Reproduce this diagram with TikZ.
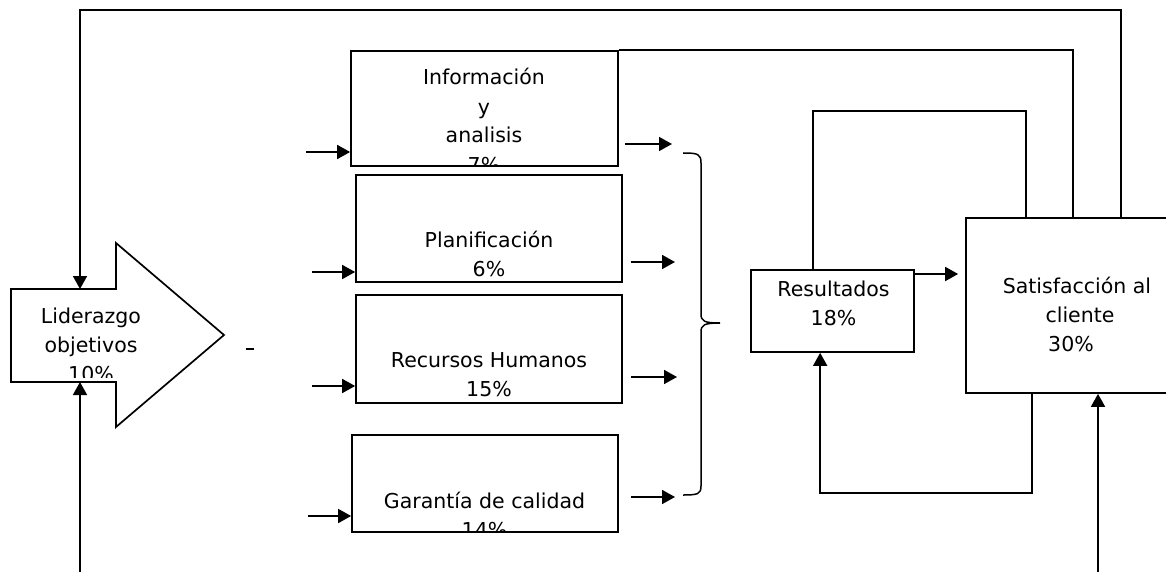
\documentclass[tikz,border=0pt]{standalone}
\usepackage{fontspec}
\setmainfont{DejaVu Sans}
\usetikzlibrary{arrows.meta}
\tikzset{
  box/.style={draw, rectangle, inner sep=0pt},
  txt/.style={align=center, inner sep=0pt, anchor=base,
              font=\fontsize{20.5}{29}\selectfont},
  arr/.style={-{Triangle[length=13pt,width=14pt]}},
}
\begin{document}
\begin{tikzpicture}[x=1pt, y=-1pt, line width=1.7pt]
\useasboundingbox (0,0) rectangle (1166,572);

% leadership block arrow
\draw (11,289) -- (116,289) -- (116,243) -- (224,335) -- (116,427)
      -- (116,382) -- (11,382) -- cycle;
\coordinate (lidtop) at (80,289);
\coordinate (lidbot) at (80,382);
\begin{scope}
  \clip (0,280) rectangle (230,377);
  \node[txt] (lidtxt) at (91,381) {Liderazgo\\objetivos\\10\%};
\end{scope}
\draw[line width=1.3pt] (245.5,349) -- (253.5,349);

% criteria boxes
\node[box, minimum width=267pt, minimum height=115pt] (info) at (484.5,108.5) {};
\node[box, minimum width=266pt, minimum height=107pt] (plan) at (489,228.5) {};
\node[box, minimum width=266pt, minimum height=108pt] (rrhh) at (489,349) {};
\node[box, minimum width=266pt, minimum height=97pt]  (gar)  at (485,483.5) {};
\node[box, minimum width=163pt, minimum height=82pt]  (res)  at (832.5,311) {};
\node[box, minimum width=206pt, minimum height=175pt] (sat)  at (1069,305.5) {};

\begin{scope}
  \clip (info.north west) rectangle (info.south east);
  \node[txt] (infotxt) at (484,172) {Información\\y\\analisis\\7\%};
\end{scope}
\node[txt] (plantxt) at (489,276) {Planificación\\6\%};
\node[txt] (rrhhtxt) at (489,396) {Recursos Humanos\\15\%};
\begin{scope}
  \clip (gar.north west) rectangle (gar.south east);
  \node[txt] (gartxt) at (484.5,537) {Garantía de calidad\\14\%};
\end{scope}
\node[txt] (restxt) at (833.5,325) {Resultados\\18\%};
\node[txt] (sattxt) at (1077,351)
  {Satisfacción al\\\hspace*{6pt}cliente\\30\%\hspace*{12pt}};

% inputs on the left of the boxes
\coordinate (in1) at (306,152);
\coordinate (in2) at (312,272);
\coordinate (in3) at (312,386);
\coordinate (in4) at (308,516);
\draw[arr] (in1) -- (in1 -| info.west);
\draw[arr] (in2) -- (in2 -| plan.west);
\draw[arr] (in3) -- (in3 -| rrhh.west);
\draw[arr] (in4) -- (in4 -| gar.west);

% outputs towards the brace
\coordinate (o1) at (672,144);
\coordinate (o2) at (675,262);
\coordinate (o3) at (677,377);
\coordinate (o4) at (675,497);
\draw[arr] ([xshift=6pt]o1 -| info.east) -- (o1);
\draw[arr] ([xshift=8pt]o2 -| plan.east) -- (o2);
\draw[arr] ([xshift=8pt]o3 -| rrhh.east) -- (o3);
\draw[arr] ([xshift=12pt]o4 -| gar.east) -- (o4);

% brace
\draw[line width=1.5pt] (683,153) .. controls (698,153) and (701,154) .. (701,163)
  -- (701,314) .. controls (701,321) and (704,323) .. (720,323)
  .. controls (704,323) and (701,325) .. (701,332)
  -- (701,486) .. controls (701,494) and (698,495) .. (683,495);

% results to customer satisfaction
\draw[arr, shorten >=7pt] (res.east |- 0,274) -- (sat.west |- 0,274);

% feedback loops
\draw[arr] ([xshift=156pt]sat.north west) |- (80,10) -- (lidtop);
\draw (info.north east) -| ([xshift=108pt]sat.north west);
\draw ([xshift=63pt]res.north west) -- ++(0,-158) -| ([xshift=61pt]sat.north west);
\draw[arr] ([xshift=67pt]sat.south west) -- ++(0,99) -| ([xshift=70pt]res.south west);

\coordinate (lidin) at (80,572);
\draw[arr] (lidin) -- (lidbot);
\coordinate (satin) at (1098,572);
\draw[arr] (satin) -- (satin |- sat.south);
\end{tikzpicture}
\end{document}
